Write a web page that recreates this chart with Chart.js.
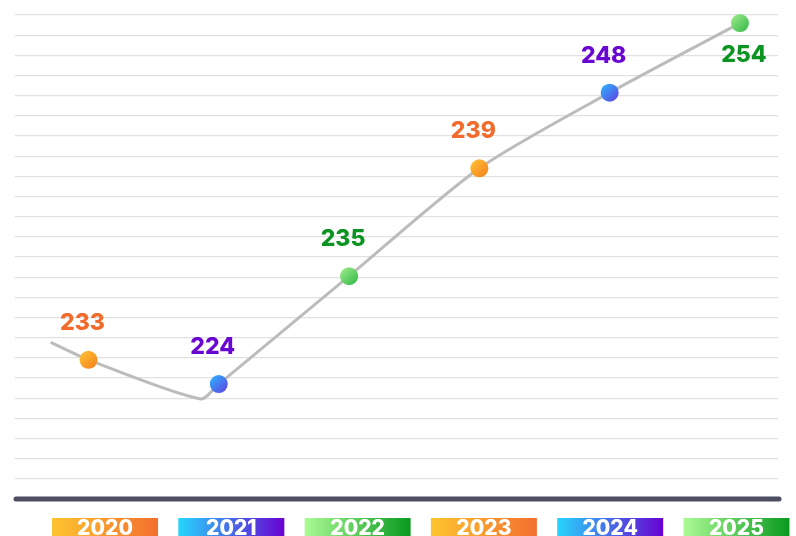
<!DOCTYPE html>
<html>
<head>
<meta charset="utf-8">
<script src="https://cdn.jsdelivr.net/npm/chart.js@4.4.1/dist/chart.umd.min.js"></script>
<style>
  html, body { margin: 0; padding: 0; background: #ffffff; }
  #wrap { width: 796px; height: 536px; position: relative; }
</style>
</head>
<body>
<div id="wrap"><canvas id="myChart"></canvas></div>
<script>
const years = [2020, 2021, 2022, 2023, 2024, 2025];
const values = [233, 224, 235, 239, 248, 254];
// heights of the points, read in gridline steps above the base line
const levels = [6.9, 5.7, 11.05, 16.4, 20.15, 23.6];
// the grey trend line, with its lead-in and its dip before 2021
const lineYears = [2019.71, 2020, 2020.86, 2021, 2022, 2023, 2024, 2025];
const lineLevels = [7.77, 6.9, 4.96, 5.7, 11.05, 16.4, 20.15, 23.6];

const palette = [
  { point: ['#ffbd33', '#f5861f'], text: '#f26b2d', box: ['#fdc42e', '#f36f2f'] },
  { point: ['#2eaafc', '#5c4de4'], text: '#6a06d2', box: ['#26d6fd', '#6802d2'] },
  { point: ['#95e884', '#3cbd4d'], text: '#0b9422', box: ['#acfb94', '#089a1f'] }
];

function pointFill(context) {
  const chart = context.chart;
  const i = context.dataIndex;
  if (i === undefined) return palette[0].point[1];
  const p = palette[i % 3];
  if (!chart.chartArea) return p.point[1];
  const x = chart.scales.x.getPixelForValue(years[i]);
  const y = chart.scales.y.getPixelForValue(levels[i]);
  const g = chart.ctx.createLinearGradient(x - 7, y - 7, x + 7, y + 7);
  g.addColorStop(0, p.point[0]);
  g.addColorStop(1, p.point[1]);
  return g;
}

// value labels over the points, year boxes under the axis
const decor = {
  id: 'decor',
  afterDatasetsDraw(chart) {
    const ctx = chart.ctx;
    const area = chart.chartArea;
    const meta = chart.getDatasetMeta(1);

    // thick base line
    const yb = chart.scales.y.getPixelForValue(0);
    ctx.save();
    ctx.strokeStyle = '#4b4f5f';
    ctx.lineWidth = 5;
    ctx.lineCap = 'round';
    ctx.beginPath();
    ctx.moveTo(area.left + 1, yb);
    ctx.lineTo(area.right + 1, yb);
    ctx.stroke();

    ctx.font = '800 23px Inter';
    ctx.textAlign = 'center';
    ctx.textBaseline = 'middle';
    meta.data.forEach((pt, i) => {
      ctx.fillStyle = palette[i % 3].text;
      const below = i === values.length - 1;
      ctx.fillText(String(values[i]), pt.x + (below ? 4 : -6), below ? pt.y + 32 : pt.y - 37);
    });

    ctx.font = '800 21px Inter';
    ctx.textBaseline = 'alphabetic';
    years.forEach((yr, i) => {
      const cx = chart.scales.xb.getPixelForValue(yr);
      const p = palette[i % 3];
      const g = ctx.createLinearGradient(cx - 53, 0, cx + 53, 0);
      g.addColorStop(0, p.box[0]);
      g.addColorStop(1, p.box[1]);
      ctx.fillStyle = g;
      ctx.fillRect(cx - 53, 518, 106, 24);
      ctx.fillStyle = '#ffffff';
      ctx.fillText(String(yr), cx, 535);
    });
    ctx.restore();
  }
};

const ctx = document.getElementById('myChart');
new Chart(ctx, {
  type: 'line',
  data: {
    datasets: [
      {
        data: lineYears.map((x, i) => ({ x: x, y: lineLevels[i] })),
        borderColor: '#bcbcbc',
        borderWidth: 3,
        pointRadius: 0,
        tension: 0.25,
        fill: false,
        order: 2,
        clip: false
      },
      {
        data: years.map((x, i) => ({ x: x, y: levels[i] })),
        showLine: false,
        pointRadius: 9,
        pointBorderWidth: 0,
        pointBackgroundColor: pointFill,
        order: 1,
        clip: false
      }
    ]
  },
  options: {
    responsive: true,
    maintainAspectRatio: false,
    animation: false,
    layout: { padding: { left: 15, right: 18, top: 15, bottom: 37 } },
    plugins: { legend: { display: false }, tooltip: { enabled: false } },
    scales: {
      x: { type: 'linear', display: false, min: 2019.436, max: 2025.292 },
      // band for the year boxes under the axis
      xb: { type: 'linear', axis: 'x', display: false, min: 2019.287, max: 2025.329 },
      y: {
        min: 0,
        max: 24,
        ticks: { display: false, stepSize: 1 },
        grid: { color: '#e1e1e1', lineWidth: 1.2, drawTicks: false },
        border: { display: false }
      }
    }
  },
  plugins: [decor]
});
</script>
</body>
</html>
